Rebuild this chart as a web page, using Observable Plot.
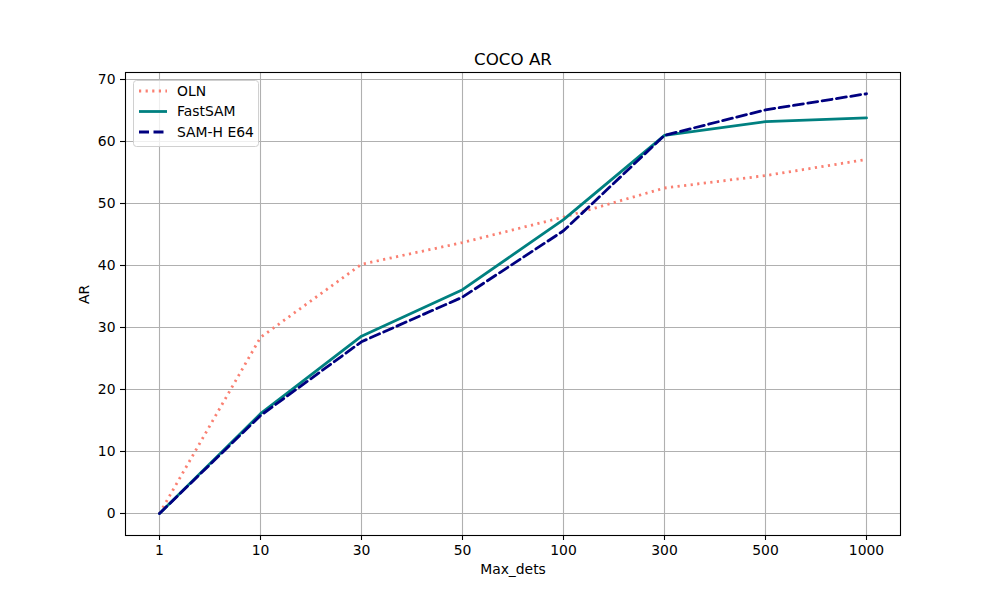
<!DOCTYPE html>
<html>
<head>
<meta charset="utf-8">
<script src="https://cdn.jsdelivr.net/npm/d3@7"></script>
<script src="https://cdn.jsdelivr.net/npm/@observablehq/plot@0.6"></script>
<style>
  body { margin: 0; background: #fff; }
  #chart { position: relative; width: 1000px; height: 600px; }
</style>
</head>
<body>
<div id="chart"></div>
<script>
const maxDets = ["1", "10", "30", "50", "100", "300", "500", "1000"];
const olnAR = [0, 28.4, 40.2, 43.7, 47.8, 52.5, 54.5, 57.1];
const fastsamAR = [0, 16.1, 28.6, 36.1, 47.4, 61.0, 63.2, 63.8];
const samhAR = [0, 15.8, 27.7, 34.9, 45.6, 61.0, 65.1, 67.7];
const yTicks = [0, 10, 20, 30, 40, 50, 60, 70];
const seriesNames = ["OLN", "FastSAM", "SAM-H E64"];
const seriesColors = ["#fa8072", "#008080", "#000080"];
const seriesDash = ["2.2,4.4", null, "10,4.5"];

const toRows = (vals) => maxDets.map((d, i) => ({ x: d, y: vals[i] }));
const oln = toRows(olnAR), fast = toRows(fastsamAR), samh = toRows(samhAR);

const font = "'DejaVu Sans', sans-serif";

const plot = Plot.plot({
  width: 1000,
  height: 600,
  marginLeft: 125,
  marginRight: 100,
  marginTop: 72,
  marginBottom: 65,
  style: { fontFamily: font, fontSize: "13.9px", color: "#000", background: "#fff" },
  x: { type: "point", domain: maxDets, padding: 0.315, label: null },
  y: { domain: [-3.55, 71.13], label: null },
  marks: [
    Plot.gridX(maxDets, { stroke: "#b0b0b0", strokeOpacity: 1, strokeWidth: 1.1 }),
    Plot.gridY(yTicks, { stroke: "#b0b0b0", strokeOpacity: 1, strokeWidth: 1.1 }),
    Plot.lineY(oln, { x: "x", y: "y", stroke: seriesColors[0], strokeWidth: 2.8, strokeDasharray: seriesDash[0], strokeLinecap: "butt" }),
    Plot.lineY(fast, { x: "x", y: "y", stroke: seriesColors[1], strokeWidth: 2.8 }),
    Plot.lineY(samh, { x: "x", y: "y", stroke: seriesColors[2], strokeWidth: 2.8, strokeDasharray: seriesDash[2] }),
    Plot.frame({ stroke: "#000", strokeWidth: 1.1 }),
    Plot.axisX(maxDets, { tickSize: 5, tickPadding: 5, stroke: "#000", strokeWidth: 1.1, fontSize: "13.9px", label: null }),
    Plot.axisY(yTicks, { tickSize: 5, tickPadding: 5, stroke: "#000", strokeWidth: 1.1, fontSize: "13.9px", label: null }),
    Plot.text(["COCO AR"], { frameAnchor: "top", lineAnchor: "bottom", dy: -8, fontSize: 16.7, fill: "#000" }),
    Plot.text(["Max_dets"], { frameAnchor: "bottom", lineAnchor: "bottom", dy: 38.5, fontSize: 13.9, fill: "#000" }),
    Plot.text(["AR"], { frameAnchor: "left", lineAnchor: "bottom", dx: -37, rotate: -90, fontSize: 13.9, fill: "#000" })
  ]
});

document.getElementById("chart").appendChild(plot);

// legend (matplotlib style, upper left)
const svg = d3.select(plot);
const lg = svg.append("g").attr("transform", "translate(133,80)");
lg.append("rect")
  .attr("x", 0.5).attr("y", 0.5).attr("width", 125).attr("height", 66)
  .attr("rx", 3).attr("fill", "#fff").attr("fill-opacity", 0.8)
  .attr("stroke", "#d0d0d0").attr("stroke-width", 1);
seriesNames.forEach((name, i) => {
  const yy = 11 + i * 20.5;
  lg.append("line")
    .attr("x1", 6).attr("x2", 34).attr("y1", yy).attr("y2", yy)
    .attr("stroke", seriesColors[i]).attr("stroke-width", 2.8)
    .attr("stroke-dasharray", seriesDash[i]);
  lg.append("text")
    .attr("x", 44).attr("y", yy).attr("dy", "0.35em")
    .attr("text-anchor", "start")
    .attr("font-family", font).attr("font-size", 13.9).attr("fill", "#000")
    .text(name);
});
</script>
</body>
</html>
